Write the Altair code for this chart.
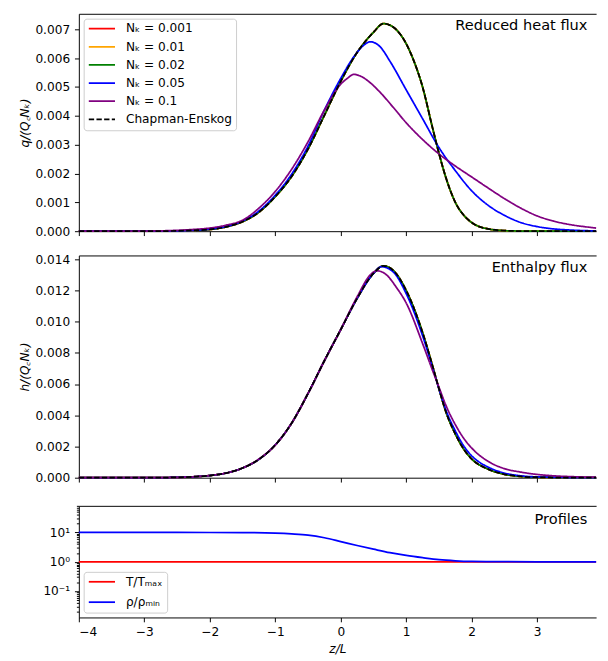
import altair as alt
import pandas as pd

# ---------------- data ----------------
X_DOMAIN = [-4.0, 3.9]
X_TICKS = [-4, -3, -2, -1, 0, 1, 2, 3]

LABELS = ["Nₖ = 0.001", "Nₖ = 0.01", "Nₖ = 0.02", "Nₖ = 0.05", "Nₖ = 0.1", "Chapman-Enskog"]
COLORS = ["#ff0000", "#ffa500", "#008000", "#0000ff", "#800080", "#000000"]
DASHES = [[1, 0], [1, 0], [1, 0], [1, 0], [1, 0], [5.5, 2.4]]

# Reduced heat flux q/(Qc NK) -- Chapman-Enskog (N_K = 0.001, 0.01, 0.02 coincide with it)
z_q_ce = [-4.0, -3.5, -3.0, -2.5, -2.25, -2.0, -1.75, -1.5, -1.25, -1.0, -0.75, -0.5, -0.25, 0.0,
          0.25, 0.5, 0.65, 0.8, 1.0, 1.1, 1.25, 1.4, 1.5, 1.6, 1.75, 1.9, 2.0, 2.25, 2.5, 2.75,
          3.0, 3.5, 3.9]
q_ce = [0.0, 0.0, 0.000001, 0.00001, 0.00003, 0.00006, 0.00015, 0.00033, 0.00066, 0.0012,
        0.0019, 0.00285, 0.00402, 0.0052, 0.0062, 0.0069, 0.0072, 0.00708, 0.0065, 0.0060,
        0.0050, 0.0036, 0.0027, 0.0019, 0.0010, 0.0005, 0.0003, 0.00008, 0.00002, 0.000004,
        0.0, 0.0, 0.0]
# N_K = 0.05
z_q_05 = [-4.0, -3.5, -3.0, -2.5, -2.25, -2.0, -1.75, -1.5, -1.25, -1.0, -0.75, -0.5, -0.25, 0.0,
          0.2, 0.35, 0.45, 0.6, 0.75, 1.0, 1.25, 1.5, 1.75, 2.0, 2.25, 2.5, 2.75, 3.0, 3.25,
          3.5, 3.9]
q_05 = [0.0, 0.0, 0.000001, 0.00001, 0.00003, 0.00007, 0.00016, 0.00035, 0.0007, 0.00125,
        0.00198, 0.00295, 0.0042, 0.0053, 0.00605, 0.00645, 0.00657, 0.0064, 0.0059, 0.0049,
        0.0039, 0.0029, 0.0021, 0.0014, 0.0009, 0.00055, 0.0003, 0.00016, 0.00008, 0.00004,
        0.00001]
# N_K = 0.1
z_q_1 = [-4.0, -3.5, -3.0, -2.5, -2.25, -2.0, -1.75, -1.5, -1.25, -1.0, -0.75, -0.5, -0.25, 0.0,
         0.1, 0.2, 0.3, 0.45, 0.6, 0.8, 1.0, 1.25, 1.5, 1.75, 2.0, 2.25, 2.5, 2.75, 3.0, 3.25,
         3.5, 3.75, 3.9]
q_1 = [0.0, 0.000001, 0.000005, 0.00003, 0.00006, 0.00011, 0.00021, 0.00038, 0.0008, 0.00138,
       0.00215, 0.0031, 0.0042, 0.0051, 0.0053, 0.00544, 0.00538, 0.00515, 0.00482, 0.0043,
       0.00376, 0.00318, 0.00268, 0.00226, 0.00188, 0.0015, 0.00113, 0.0008, 0.00053, 0.00035,
       0.00023, 0.00015, 0.00011]

# Enthalpy flux h/(Qc NK)
z_h_ce = [-4.0, -3.5, -3.0, -2.5, -2.25, -2.0, -1.75, -1.5, -1.25, -1.0, -0.75, -0.5, -0.25, 0.0,
          0.25, 0.5, 0.65, 0.8, 1.0, 1.25, 1.4, 1.5, 1.6, 1.75, 1.9, 2.0, 2.25, 2.5, 2.75, 3.0,
          3.5, 3.9]
h_ce = [0.0, 0.0, 0.000003, 0.00002, 0.00006, 0.00014, 0.0003, 0.00062, 0.00118, 0.0021,
        0.0035, 0.0054, 0.0075, 0.0095, 0.0115, 0.0131, 0.01358, 0.0133, 0.0120, 0.0093,
        0.0072, 0.0057, 0.0043, 0.0028, 0.0017, 0.0012, 0.00055, 0.00022, 0.00008, 0.00003,
        0.000003, 0.0]
z_h_05 = [-4.0, -3.5, -3.0, -2.5, -2.25, -2.0, -1.75, -1.5, -1.25, -1.0, -0.75, -0.5, -0.25, 0.0,
          0.25, 0.5, 0.62, 0.8, 1.0, 1.25, 1.4, 1.5, 1.6, 1.75, 1.9, 2.0, 2.25, 2.5, 2.75, 3.0,
          3.5, 3.9]
h_05 = [0.0, 0.0, 0.000003, 0.00002, 0.00006, 0.00014, 0.0003, 0.00062, 0.00118, 0.0021,
        0.0035, 0.0054, 0.0075, 0.0095, 0.0115, 0.0131, 0.01353, 0.0132, 0.0118, 0.0091,
        0.0071, 0.0057, 0.0044, 0.0030, 0.0019, 0.0014, 0.00068, 0.0003, 0.00012, 0.00005,
        0.00001, 0.0]
z_h_1 = [-4.0, -3.5, -3.0, -2.5, -2.25, -2.0, -1.75, -1.5, -1.25, -1.0, -0.75, -0.5, -0.25, 0.0,
         0.25, 0.45, 0.55, 0.7, 0.85, 1.0, 1.25, 1.4, 1.5, 1.6, 1.75, 1.9, 2.0, 2.25, 2.5, 2.75,
         3.0, 3.25, 3.5, 3.9]
h_1 = [0.0, 0.0, 0.000003, 0.00002, 0.00006, 0.00014, 0.0003, 0.00062, 0.0012, 0.0021,
       0.0035, 0.0054, 0.0075, 0.0095, 0.0116, 0.0130, 0.01327, 0.0130, 0.0122, 0.0112,
       0.0086, 0.0069, 0.0058, 0.0047, 0.0034, 0.0024, 0.0019, 0.00105, 0.00058, 0.00036,
       0.00021, 0.00012, 0.00007, 0.00003]

# Profiles
PROF_LABELS = ["T/Tₘₐₓ", "ρ/ρₘᵢₙ"]
PROF_COLORS = ["#ff0000", "#0000ff"]
z_T = [-4.0, 3.9]
T_ratio = [1.0, 1.0]
z_rho = [-4.0, -3.0, -2.0, -1.5, -1.0, -0.75, -0.5, -0.25, 0.0, 0.25, 0.5, 0.75, 1.0, 1.25,
         1.5, 1.75, 2.0, 2.5, 3.0, 3.9]
rho_ratio = [10.0, 10.0, 9.98, 9.9, 9.45, 8.9, 8.1, 6.6, 4.9, 3.6, 2.7, 2.05, 1.65, 1.38,
             1.18, 1.08, 1.03, 1.005, 1.0, 1.0]

Q_TICKS = [0.0, 0.001, 0.002, 0.003, 0.004, 0.005, 0.006, 0.007]
H_TICKS = [0.0, 0.002, 0.004, 0.006, 0.008, 0.010, 0.012, 0.014]
LOG_MAJOR = [0.1, 1, 10]
LOG_MINOR = [0.02, 0.03, 0.04, 0.05, 0.06, 0.07, 0.08, 0.09,
             0.2, 0.3, 0.4, 0.5, 0.6, 0.7, 0.8, 0.9,
             2, 3, 4, 5, 6, 7, 8, 9, 20, 30, 40, 50, 60, 70, 80]

# ---------------- chart ----------------
W = 533
FS = 12.5
LW = 1.8
XS = alt.Scale(domain=X_DOMAIN, nice=False, zero=False)


def df_of(z, v, label):
    return pd.DataFrame({"z": z, "v": v, "s": label})


def bottom_axis(labels):
    if labels:
        return alt.Axis(orient="bottom", values=X_TICKS, title="z/L",
                        labelExpr="datum.value < 0 ? '\u2212' + format(-datum.value, 'd') : format(datum.value, 'd')")
    return alt.Axis(orient="bottom", values=X_TICKS, labels=False, title=None)


TOP_AXIS = alt.Axis(orient="top", labels=False, ticks=False, title=None, domain=True)


def title_layer(text, y):
    return alt.Chart(pd.DataFrame({"t": [text]})).mark_text(
        align="right", baseline="middle", fontSize=15, font="DejaVu Sans", color="black"
    ).encode(text="t:N", x=alt.value(W - 9), y=alt.value(y))


def flux_panel(series, y_title, y_domain, y_ticks, panel_title, height, legend):
    ys = alt.Scale(domain=y_domain, nice=False, zero=False)
    cs = alt.Scale(domain=LABELS, range=COLORS)
    ds = alt.Scale(domain=LABELS, range=DASHES)
    layers = []
    n = len(series)
    for i, (z, v, lab) in enumerate(series):
        if i == 0:
            xa = bottom_axis(False)
            ya = alt.Axis(orient="left", values=y_ticks, format=".3f", title=y_title)
        elif i == n - 1:
            xa = TOP_AXIS
            ya = None
        else:
            xa = None
            ya = None
        layers.append(
            alt.Chart(df_of(z, v, lab)).mark_line(strokeWidth=LW, interpolate="monotone").encode(
                x=alt.X("z:Q", scale=XS, axis=xa),
                y=alt.Y("v:Q", scale=ys, axis=ya),
                color=alt.Color("s:N", scale=cs, legend=legend),
                strokeDash=alt.StrokeDash("s:N", scale=ds, legend=legend),
            )
        )
    layers.append(title_layer(panel_title, 12))
    return (alt.layer(*layers).resolve_axis(x="independent", y="independent")
            .properties(width=W, height=height))


leg1 = alt.Legend(title=None, orient="top-left", offset=5, padding=4, fillColor="white",
                  strokeColor="#cccccc", cornerRadius=3, symbolType="M-1,0H4.4", symbolSize=100,
                  symbolStrokeWidth=LW, labelFontSize=FS, labelOffset=27, rowPadding=5.7,
                  labelLimit=300, labelFont="DejaVu Sans")

q_series = [
    (z_q_ce, q_ce, LABELS[0]),
    (z_q_ce, q_ce, LABELS[1]),
    (z_q_ce, q_ce, LABELS[2]),
    (z_q_05, q_05, LABELS[3]),
    (z_q_1, q_1, LABELS[4]),
    (z_q_ce, q_ce, LABELS[5]),
]
h_series = [
    (z_h_ce, h_ce, LABELS[0]),
    (z_h_ce, h_ce, LABELS[1]),
    (z_h_ce, h_ce, LABELS[2]),
    (z_h_05, h_05, LABELS[3]),
    (z_h_1, h_1, LABELS[4]),
    (z_h_ce, h_ce, LABELS[5]),
]

p1 = flux_panel(q_series, "q/(Q꜀Nₖ)", [0, 0.00754], Q_TICKS, "Reduced heat flux", 224, leg1)
p2 = flux_panel(h_series, "h/(Q꜀Nₖ)", [0, 0.01425], H_TICKS, "Enthalpy flux", 229, None)

# profiles panel
leg3 = alt.Legend(title=None, orient="bottom-left", offset=5, padding=4, fillColor="white",
                  strokeColor="#cccccc", cornerRadius=3, symbolType="M-1,0H4.4", symbolSize=100,
                  symbolStrokeWidth=LW, labelFontSize=FS, labelOffset=27, rowPadding=8,
                  labelLimit=300, labelFont="DejaVu Sans")
log_scale = alt.Scale(type="log", domain=[0.0126, 81], nice=False)
pcs = alt.Scale(domain=PROF_LABELS, range=PROF_COLORS)
major_test = "datum.value == 0.1 || datum.value == 1 || datum.value == 10"
log_axis = alt.Axis(
    orient="left", values=LOG_MAJOR + LOG_MINOR, title=" ", labelOverlap=False,
    labelExpr="datum.value == 10 ? '10\u00b9' : datum.value == 1 ? '10\u2070' : datum.value == 0.1 ? '10\u207b\u00b9' : ''",
    tickSize={"condition": {"test": major_test, "value": 4.5}, "value": 2.5},
)
pT = alt.Chart(df_of(z_T, T_ratio, PROF_LABELS[0])).mark_line(strokeWidth=LW).encode(
    x=alt.X("z:Q", scale=XS, axis=bottom_axis(True)),
    y=alt.Y("v:Q", scale=log_scale, axis=log_axis),
    color=alt.Color("s:N", scale=pcs, legend=leg3),
)
pR = alt.Chart(df_of(z_rho, rho_ratio, PROF_LABELS[1])).mark_line(strokeWidth=LW, interpolate="monotone").encode(
    x=alt.X("z:Q", scale=XS, axis=TOP_AXIS),
    y=alt.Y("v:Q", scale=log_scale, axis=None),
    color=alt.Color("s:N", scale=pcs, legend=leg3),
)
p3 = (alt.layer(pT, pR, title_layer("Profiles", 14))
      .resolve_axis(x="independent", y="independent")
      .properties(width=W, height=115))

chart = (
    alt.vconcat(p1, p2, p3, spacing=16)
    .resolve_scale(color="independent", strokeDash="independent")
    .properties(padding={"left": 11, "top": -4, "right": 0, "bottom": 0})
    .configure(font="DejaVu Sans", background="white")
    .configure_view(stroke=None)
    .configure_axis(domainColor="black", tickColor="black", labelColor="black", titleColor="black",
                    domainWidth=1, tickWidth=1, labelFontSize=FS, titleFontSize=FS, grid=False,
                    labelFont="DejaVu Sans", titleFont="DejaVu Sans", titleFontWeight="normal",
                    tickSize=4.5)
    .configure_axisY(minExtent=46, maxExtent=46, labelPadding=5, titlePadding=3, titleFontStyle="italic")
    .configure_axisX(labelPadding=4, titlePadding=5, titleFontStyle="italic")
)

chart.save("out.html", embed_options={"renderer": "svg", "actions": False})
